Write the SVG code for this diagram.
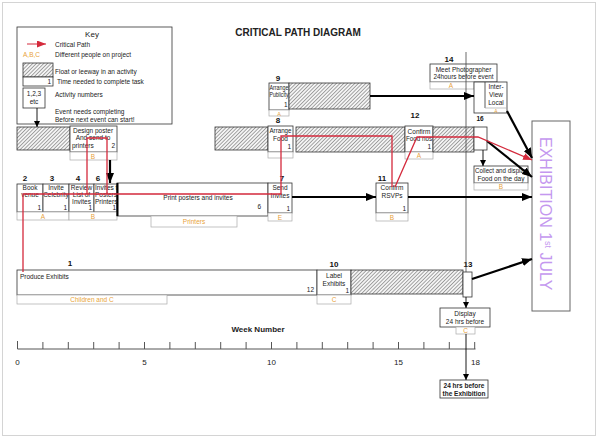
<svg xmlns="http://www.w3.org/2000/svg" width="600" height="440" viewBox="0 0 600 440">
<defs>
<pattern id="hatch" width="2.6" height="2.6" patternUnits="userSpaceOnUse" patternTransform="rotate(45)">
<rect width="2.6" height="2.6" fill="#f4f4f4"/>
<line x1="0" y1="0" x2="0" y2="2.6" stroke="#555" stroke-width="1"/>
</pattern>
<marker id="ak" markerWidth="10" markerHeight="8" refX="10" refY="4" orient="auto" markerUnits="userSpaceOnUse"><path d="M0,0 L10,4 L0,8 z" fill="#000"/></marker>
<marker id="ar" markerWidth="9" markerHeight="7" refX="9" refY="3.5" orient="auto" markerUnits="userSpaceOnUse"><path d="M0,0 L9,3.5 L0,7 z" fill="#d42a3c"/></marker>
<marker id="as" markerWidth="6" markerHeight="6" refX="6" refY="3" orient="auto" markerUnits="userSpaceOnUse"><path d="M0,0 L6,3 L0,6 z" fill="#000"/></marker>
<clipPath id="c6"><rect x="94" y="184" width="23" height="28"/></clipPath>
<style>
text{font-family:"Liberation Sans",Arial,sans-serif;fill:#222}
.t{font-size:6.5px}
.tc{font-size:6.5px;text-anchor:middle}
.tr{font-size:6.5px;text-anchor:end}
.n{font-size:8px;font-weight:bold;text-anchor:middle;fill:#111}
.o{font-size:6.5px;text-anchor:middle;fill:#e8a33a}
.bx{fill:#fff;stroke:#333;stroke-width:0.8}
.ht{fill:url(#hatch);stroke:#333;stroke-width:0.8}
.rs{fill:#fff;stroke:#aaa;stroke-width:0.7}
.thick{stroke:#000;stroke-width:2.2;fill:none;marker-end:url(#ak)}
.thin{stroke:#000;stroke-width:0.9;fill:none;marker-end:url(#as)}
.red{stroke:#d42a3c;stroke-width:1.3;fill:none}
.ax{stroke:#555;stroke-width:1;fill:none}
</style>
</defs>
<rect x="0" y="0" width="600" height="440" fill="#fff"/>
<rect x="2.5" y="2.5" width="593" height="433" fill="none" stroke="#d4d4d4" stroke-width="1"/>

<text x="298" y="36" style="font-size:10px;font-weight:bold;text-anchor:middle">CRITICAL PATH DIAGRAM</text>

<g id="key">
<rect x="17" y="27" width="155" height="97" class="bx"/>
<text x="92" y="37" style="font-size:8px;text-anchor:middle">Key</text>
<line x1="27" y1="44" x2="46" y2="44" stroke="#d42a3c" stroke-width="1" marker-end="url(#ar)"/>
<text x="55" y="46.5" class="t">Critical Path</text>
<text x="23" y="56.5" class="t" style="fill:#e8a33a">A,B,C</text>
<text x="55" y="56.5" class="t">Different people on project</text>
<rect x="23" y="63" width="30" height="14" class="ht"/>
<text x="55" y="74" class="t">Float or leeway in an activity</text>
<rect x="23" y="77" width="30" height="9" class="bx"/>
<text x="51" y="84" class="tr">1</text>
<text x="57" y="83.5" class="t">Time needed to complete task</text>
<rect x="23" y="88" width="22" height="20" class="bx"/>
<text x="34" y="96" class="tc">1,2,3</text>
<text x="34" y="104" class="tc">etc</text>
<text x="55" y="96.5" class="t">Activity numbers</text>
<text x="55" y="114" class="t">Event needs completing</text>
<text x="55" y="121.5" class="t">Before next event can start!</text>
</g>

<g id="node-5">
<rect x="17" y="127" width="53" height="23" class="ht"/>
<rect x="70" y="126" width="47" height="26" class="bx"/>
<text x="93" y="133" class="tc">Design poster</text>
<text x="93" y="140" class="tc">And send to</text>
<text x="72" y="148" class="t">printers</text>
<text x="115" y="148" class="tr">2</text>
<rect x="70" y="152" width="47" height="8" class="rs"/>
<text x="93" y="158.5" class="o">B</text>
</g>

<g id="node-2">
<text x="25" y="181" class="n">2</text>
<rect x="17" y="184" width="26" height="28" class="bx"/>
<text x="30" y="190" class="tc">Book</text>
<text x="30" y="197" class="tc">venue</text>
<text x="41" y="210" class="tr">1</text>
</g>
<g id="node-3">
<text x="52" y="181" class="n">3</text>
<rect x="43" y="184" width="26" height="28" class="bx"/>
<text x="56" y="190" class="tc">Invite</text>
<text x="56" y="197" class="tc">Celebrity</text>
<text x="67" y="210" class="tr">1</text>
</g>
<g id="node-4">
<text x="78" y="181" class="n">4</text>
<rect x="69" y="184" width="25" height="28" class="bx"/>
<text x="81.5" y="190" class="tc">Review</text>
<text x="81.5" y="197" class="tc">List of</text>
<text x="81.5" y="204" class="tc">Invites</text>
<text x="92" y="210" class="tr">1</text>
</g>
<g id="node-6">
<text x="98" y="181" class="n">6</text>
<rect x="94" y="184" width="23" height="28" class="bx"/>
<g clip-path="url(#c6)">
<text x="95" y="190" class="t">Invites to</text>
<text x="95" y="197" class="t">Posters &amp;</text>
<text x="95" y="204" class="t">Printers</text>
</g>
<text x="116" y="210" class="tr">1</text>
</g>
<g id="res-2-6">
<rect x="17" y="212" width="52" height="8" class="rs"/>
<text x="43" y="218.5" class="o">A</text>
<rect x="69" y="212" width="48" height="8" class="rs"/>
<text x="93" y="218.5" class="o">B</text>
</g>

<g id="node-print">
<rect x="117" y="183" width="151" height="33" class="bx"/>
<line x1="117.5" y1="183" x2="117.5" y2="216" stroke="#000" stroke-width="2"/>
<text x="198" y="200" class="tc">Print posters and invites</text>
<text x="261" y="209" class="tr">6</text>
<rect x="151" y="216" width="86" height="11" class="rs"/>
<text x="194" y="224" class="o">Printers</text>
</g>

<g id="node-7">
<text x="282" y="181" class="n">7</text>
<rect x="268" y="183" width="24" height="30" class="bx"/>
<text x="280" y="190" class="tc">Send</text>
<text x="280" y="198" class="tc">Invites</text>
<text x="290" y="211" class="tr">1</text>
<rect x="268" y="213" width="24" height="8" class="rs"/>
<text x="280" y="219.5" class="o">E</text>
</g>

<g id="node-11">
<text x="382" y="181" class="n">11</text>
<rect x="376" y="183" width="32" height="30" class="bx"/>
<text x="392" y="190" class="tc">Confirm</text>
<text x="392" y="198" class="tc">RSVPs</text>
<text x="406" y="211" class="tr">1</text>
<rect x="376" y="213" width="32" height="8" class="rs"/>
<text x="392" y="219.5" class="o">B</text>
</g>

<g id="node-9">
<text x="278" y="81" class="n">9</text>
<rect x="269" y="83" width="20" height="27" class="bx"/>
<text x="279" y="90" class="tc" textLength="19" lengthAdjust="spacingAndGlyphs">Arrange</text>
<text x="279" y="97" class="tc" textLength="19" lengthAdjust="spacingAndGlyphs">Publicity</text>
<text x="287.5" y="107" class="tr">1</text>
<rect x="269" y="110" width="20" height="6" class="rs"/>
<text x="279" y="115.5" class="o" style="font-size:5.5px">A</text>
<rect x="289" y="83" width="81" height="26" class="ht"/>
</g>

<g id="node-8">
<text x="278" y="123" class="n">8</text>
<rect x="215" y="127" width="53" height="23" class="ht"/>
<rect x="268" y="126" width="25" height="26" class="bx"/>
<text x="280.5" y="133" class="tc" textLength="22" lengthAdjust="spacingAndGlyphs">Arrange</text>
<text x="280.5" y="141" class="tc">Food</text>
<text x="291" y="149" class="tr">1</text>
<rect x="268" y="152" width="25" height="6" class="rs"/>
<rect x="296" y="127" width="109" height="25" class="ht"/>
</g>

<g id="node-12">
<text x="415" y="118" class="n">12</text>
<rect x="405" y="126" width="28" height="26" class="bx"/>
<text x="419" y="134" class="tc">Confirm</text>
<text x="419" y="141" class="tc" textLength="26" lengthAdjust="spacingAndGlyphs">Food nos</text>
<text x="431" y="149" class="tr">1</text>
<rect x="405" y="152" width="28" height="7" class="rs"/>
<text x="419" y="158" class="o">A</text>
<rect x="433" y="127" width="41" height="25" class="ht"/>
</g>

<g id="node-16">
<text x="480" y="121" class="n" style="font-size:6.5px">16</text>
<rect x="474" y="127" width="13" height="23" class="bx"/>
</g>

<g id="node-collect">
<rect x="474" y="166" width="54" height="17" class="bx"/>
<text x="501" y="173" class="tc" textLength="52" lengthAdjust="spacingAndGlyphs">Collect and display</text>
<text x="501" y="180.5" class="tc">Food on the day</text>
<rect x="474" y="183" width="54" height="7" class="rs"/>
<text x="501" y="189" class="o">B</text>
</g>

<g id="node-14">
<text x="449" y="62" class="n">14</text>
<rect x="430" y="64" width="67" height="18" class="bx"/>
<text x="463.5" y="71.5" class="tc">Meet Photographer</text>
<text x="463.5" y="79" class="tc" textLength="60" lengthAdjust="spacingAndGlyphs">24hours before event</text>
<rect x="430" y="82" width="44" height="7" class="rs"/>
<text x="451" y="88" class="o">A</text>
</g>

<g id="node-15">
<rect x="474" y="82" width="33" height="31" class="bx"/>
<line x1="485" y1="82" x2="485" y2="108" stroke="#333" stroke-width="0.8"/>
<line x1="485" y1="108" x2="507" y2="108" stroke="#aaa" stroke-width="0.7"/>
<text x="496" y="89" class="tc">Inter-</text>
<text x="496" y="97" class="tc">View</text>
<text x="496" y="105" class="tc">Local</text>
<text x="496" y="112.5" class="o" style="font-size:5px">A</text>
</g>

<g id="node-1">
<text x="70" y="266" class="n">1</text>
<rect x="17" y="270" width="300" height="25" class="bx"/>
<text x="20" y="279" class="t">Produce Exhibits</text>
<text x="314" y="292" class="tr">12</text>
<rect x="17" y="295" width="150" height="9" class="rs"/>
<text x="92" y="302" class="o">Children and C</text>
</g>

<g id="node-10">
<text x="334" y="267" class="n">10</text>
<rect x="317" y="270" width="34" height="25" class="bx"/>
<text x="334" y="278" class="tc">Label</text>
<text x="334" y="286" class="tc">Exhibits</text>
<text x="349" y="293" class="tr">1</text>
<rect x="317" y="295" width="34" height="9" class="rs"/>
<text x="334" y="302" class="o">C</text>
<rect x="351" y="270" width="112" height="24" class="ht"/>
</g>

<g id="node-13">
<text x="468" y="267" class="n">13</text>
<rect x="463" y="272" width="9" height="25" class="bx"/>
</g>

<g id="node-display">
<rect x="440" y="308" width="50" height="19" class="bx"/>
<text x="465" y="315.5" class="tc">Display</text>
<text x="465" y="323.5" class="tc">24 hrs before</text>
<rect x="456" y="327" width="19" height="7" class="rs"/>
<text x="465.5" y="333" class="o">C</text>
</g>

<g id="node-final">
<rect x="440" y="380" width="48" height="18" class="bx"/>
<text x="464" y="388" class="tc" style="font-weight:bold">24 hrs before</text>
<text x="464" y="396" class="tc" style="font-weight:bold">the Exhibition</text>
</g>

<g id="node-exhibition">
<rect x="532" y="121" width="38" height="190" fill="#fff" stroke="#666" stroke-width="1"/>
<text transform="translate(540,137) rotate(90)" style="font-size:16px;fill:#c498ef">EXHIBITION  1<tspan dy="-5" style="font-size:9px">st</tspan><tspan dy="5"> JULY</tspan></text>
</g>

<g id="axis">
<line x1="17.5" y1="349" x2="475.5" y2="349" class="ax"/>
<path class="ax" d="M17.5,341V349M42.9,342V349M68.3,342V349M93.7,342V349M119.1,342V349M144.5,342V349M169.9,342V349M195.3,342V349M220.7,342V349M246.1,342V349M271.5,342V349M296.9,342V349M322.3,342V349M347.7,342V349M373.1,342V349M398.5,342V349M423.9,342V349M449.3,342V349M474.7,342V349"/>
<text x="17.5" y="365" style="font-size:8px;text-anchor:middle">0</text>
<text x="144.5" y="365" style="font-size:8px;text-anchor:middle">5</text>
<text x="271.5" y="365" style="font-size:8px;text-anchor:middle">10</text>
<text x="398.5" y="365" style="font-size:8px;text-anchor:middle">15</text>
<text x="475.5" y="365" style="font-size:8px;text-anchor:middle">18</text>
<text x="258" y="332" style="font-size:8px;font-weight:bold;text-anchor:middle">Week Number</text>
</g>

<g id="connectors">
<line x1="466" y1="52" x2="466" y2="272" stroke="#444" stroke-width="0.8"/>
<line x1="37" y1="108" x2="37" y2="127" class="thin"/>
<line x1="483" y1="150" x2="483" y2="166" class="thin"/>
<line x1="466" y1="297" x2="466" y2="308" class="thin"/>
<line x1="466" y1="334" x2="466" y2="380" class="thin"/>
<line x1="110" y1="160" x2="110" y2="183" class="thick"/>
<line x1="370" y1="96" x2="474" y2="96" class="thick"/>
<line x1="292" y1="197" x2="376" y2="197" class="thick"/>
<line x1="408" y1="197" x2="532" y2="197" class="thick"/>
<line x1="507" y1="111" x2="532" y2="158" class="thick"/>
<line x1="487" y1="141" x2="532" y2="177" class="thick"/>
<line x1="472" y1="279" x2="532" y2="259" class="thick"/>
<path class="red" d="M23,272V194H281V136H392V187M87,194V138H107V194"/>
<path class="red" d="M395,187L417,137H478L532,160" marker-end="url(#ar)"/>
</g>
</svg>
